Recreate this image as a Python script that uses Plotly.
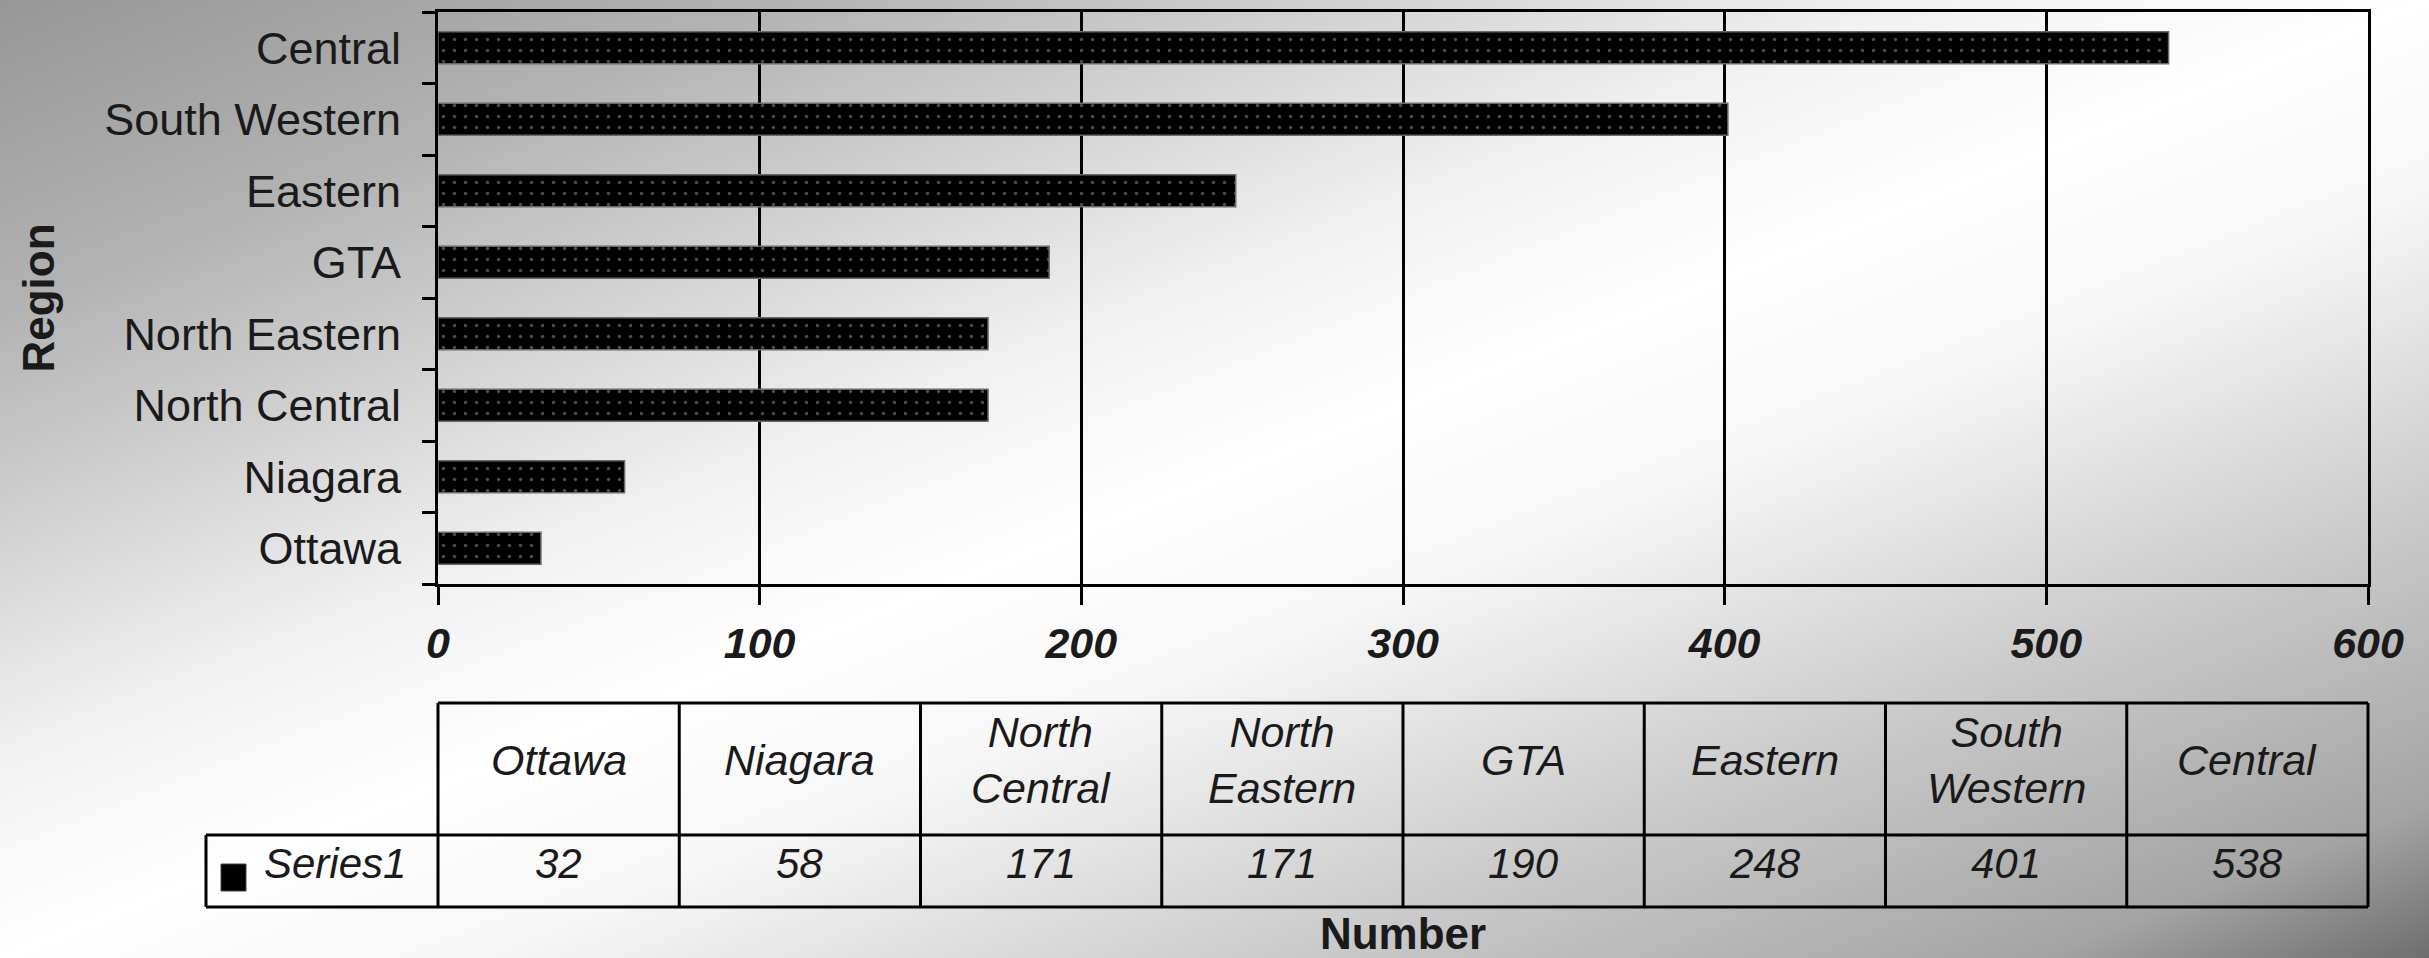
import base64
import plotly.graph_objects as go

# ---------------- data ----------------
regions = ["Ottawa", "Niagara", "North Central", "North Eastern", "GTA",
           "Eastern", "South Western", "Central"]
header_labels = ["Ottawa", "Niagara", "North<br>Central", "North<br>Eastern", "GTA",
                 "Eastern", "South<br>Western", "Central"]
values = [32, 58, 171, 171, 190, 248, 401, 538]
series_name = "Series1"
x_ticks = [0, 100, 200, 300, 400, 500, 600]

# ---------------- geometry (pixels of the 2429x958 canvas) ----------------
W, H = 2429, 958
PL, PR, PT, PB = 438, 2368, 12, 584          # main plot area
TT, TM, TB = 703, 835, 907                    # table top / row divider / bottom
T_LEFT = 206                                  # table left edge (series label cell)
col_w = (PR - PL) / len(regions)
first_w = (PL - T_LEFT) / col_w               # width of label column in column units
hdr_h = (TM - TT) / (TB - TM)                 # header height in value-row units
row_px = TB - TM

padx, pady = 0.04, 0.1
x2_lo, x2_hi = -first_w - padx, len(regions) + padx
y2_lo, y2_hi = -pady, 1 + hdr_h + pady

FONT = "Liberation Sans, Arial, sans-serif"
TXT = "#1a1a1a"

# ---------------- background gradient ----------------
svg = f'''<svg xmlns="http://www.w3.org/2000/svg" width="{W}" height="{H}" viewBox="0 0 {W} {H}" preserveAspectRatio="none">
<defs><linearGradient id="g" x1="0" y1="0" x2="1" y2="1" gradientUnits="objectBoundingBox">
<stop offset="0" stop-color="#979797"/>
<stop offset="0.16" stop-color="#b2b2b2"/>
<stop offset="0.40" stop-color="#f2f2f2"/>
<stop offset="0.50" stop-color="#ffffff"/>
<stop offset="0.60" stop-color="#f6f6f6"/>
<stop offset="0.77" stop-color="#c9c9c9"/>
<stop offset="0.92" stop-color="#a4a4a4"/>
<stop offset="1" stop-color="#6e6e6e"/>
</linearGradient></defs>
<rect x="0" y="0" width="{W}" height="{H}" fill="url(#g)"/></svg>'''
bg_src = "data:image/svg+xml;base64," + base64.b64encode(svg.encode()).decode()

fig = go.Figure()

fig.add_trace(go.Bar(
    x=values, y=regions, orientation="h", name=series_name,
    marker=dict(color="black", line=dict(color="#6a6a6a", width=1.5),
                pattern=dict(shape=".", fgcolor="#4a4a4a", bgcolor="black",
                             size=11, solidity=0.08, fillmode="replace")),
    showlegend=False, xaxis="x", yaxis="y",
))

# invisible trace to anchor the table axes
fig.add_trace(go.Scatter(x=[0], y=[0], xaxis="x2", yaxis="y2", mode="markers",
                         marker=dict(opacity=0), showlegend=False, hoverinfo="skip"))

shapes = []
line = dict(color="black", width=3)
# table horizontal lines
shapes.append(dict(type="line", xref="x2", yref="y2", x0=0, x1=len(regions),
                   y0=1 + hdr_h, y1=1 + hdr_h, line=line))
for yv in (0, 1):
    shapes.append(dict(type="line", xref="x2", yref="y2", x0=-first_w, x1=len(regions),
                       y0=yv, y1=yv, line=line))
# vertical lines
for i in range(len(regions) + 1):
    shapes.append(dict(type="line", xref="x2", yref="y2", x0=i, x1=i,
                       y0=0, y1=1 + hdr_h, line=line))
shapes.append(dict(type="line", xref="x2", yref="y2", x0=-first_w, x1=-first_w,
                   y0=0, y1=1, line=line))
# legend key square
kx0 = -first_w + (221 - T_LEFT) / col_w
kx1 = -first_w + (246 - T_LEFT) / col_w
shapes.append(dict(type="rect", xref="x2", yref="y2", x0=kx0, x1=kx1,
                   y0=(TB - 891) / row_px, y1=(TB - 864) / row_px,
                   fillcolor="black", line=dict(color="#444", width=1)))

annotations = []
for i, (lab, v) in enumerate(zip(header_labels, values)):
    annotations.append(dict(xref="x2", yref="y2", x=i + 0.5, y=1 + hdr_h / 2, yshift=9,
                            text=lab, showarrow=False,
                            font=dict(family=FONT, size=43, color=TXT, style="italic")))
    annotations.append(dict(xref="x2", yref="y2", x=i + 0.5, y=0.5, yshift=8,
                            text=str(v), showarrow=False,
                            font=dict(family=FONT, size=42, color=TXT, style="italic")))
annotations.append(dict(xref="x2", yref="y2", x=-first_w + (262 - T_LEFT) / col_w, y=0.5,
                        yshift=8, xanchor="left", text=series_name, showarrow=False,
                        font=dict(family=FONT, size=42, color=TXT, style="italic")))

fig.update_layout(
    width=W, height=H,
    margin=dict(l=0, r=0, t=0, b=0, autoexpand=False),
    paper_bgcolor="white", plot_bgcolor="rgba(0,0,0,0)",
    bargap=0.55,
    images=[dict(source=bg_src, xref="paper", yref="paper", x=0, y=1, sizex=1, sizey=1,
                 xanchor="left", yanchor="top", sizing="stretch", layer="below")],
    shapes=shapes, annotations=annotations,
    xaxis=dict(domain=[PL / W, PR / W], range=[0, 600], tickvals=x_ticks,
               showgrid=True, gridcolor="black", gridwidth=2.5, zeroline=False,
               showline=True, linecolor="black", linewidth=3, mirror=True,
               ticks="outside", ticklen=18, tickwidth=2.5, tickcolor="black",
               ticklabelstandoff=1, automargin=False,
               tickfont=dict(family=FONT, size=43, color=TXT, weight="bold", style="italic"),
               title=dict(text="Number", standoff=258,
                          font=dict(family=FONT, size=44, color=TXT, weight="bold")),
               fixedrange=True, anchor="y"),
    yaxis=dict(domain=[1 - PB / H, 1 - PT / H], categoryorder="array", categoryarray=regions,
               showline=True, linecolor="black", linewidth=3, mirror=True,
               ticks="outside", tickson="boundaries", ticklen=13, tickwidth=2.5,
               tickcolor="black", showgrid=False, ticklabelstandoff=25, automargin=False,
               tickfont=dict(family=FONT, size=45, color=TXT),
               title=dict(text="Region", standoff=36,
                          font=dict(family=FONT, size=44, color=TXT, weight="bold")),
               fixedrange=True, anchor="x"),
    xaxis2=dict(domain=[(PL + x2_lo * col_w) / W, (PL + x2_hi * col_w) / W],
                range=[x2_lo, x2_hi], visible=False, anchor="y2", fixedrange=True,
                automargin=False),
    yaxis2=dict(domain=[1 - (TB - y2_lo * row_px) / H, 1 - (TB - y2_hi * row_px) / H],
                range=[y2_lo, y2_hi], visible=False, anchor="x2", fixedrange=True,
                automargin=False),
)

fig.write_html("out.html", config={"displayModeBar": False},
               post_script="document.body.style.margin='0';document.body.style.overflow='hidden';")
